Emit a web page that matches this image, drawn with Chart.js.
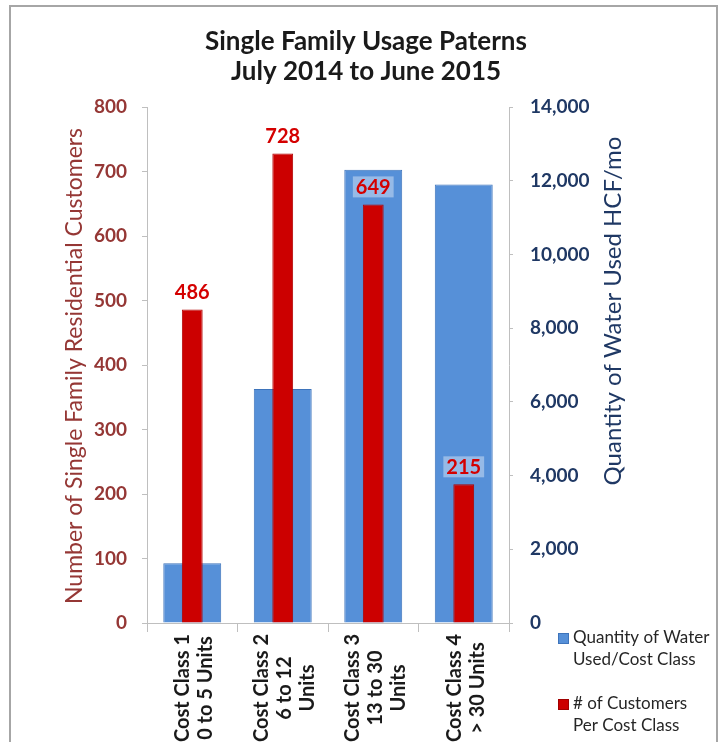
<!DOCTYPE html>
<html>
<head>
<meta charset="utf-8">
<title>Single Family Usage Paterns</title>
<script src="https://cdn.jsdelivr.net/npm/chart.js@4/dist/chart.umd.min.js"></script>
<style>
  body { margin: 0; background: #fff; }
  canvas { display: block; }
</style>
</head>
<body>
<canvas id="usageChart" width="720" height="742"></canvas>
<script>
// Chart data
const costClasses = [
    ['Cost Class 1', '0 to 5 Units'],
    ['Cost Class 2', '6 to 12', 'Units'],
    ['Cost Class 3', '13 to 30', 'Units'],
    ['Cost Class 4', '> 30 Units']
];
const waterUsed = [1620, 6350, 12300, 11900];   // HCF/mo
const customers = [486, 728, 649, 215];
const titleLines = ['Single Family Usage Paterns', 'July 2014 to June 2015'];
const waterLegend = ['Quantity of Water', 'Used/Cost Class'];
const customerLegend = ['# of Customers', 'Per Cost Class'];

const FONT = 'Lato, "Open Sans", sans-serif';
const RED_AXIS = '#953735';
const NAVY = '#1f3864';
const BLUE = '#5690d8';
const RED = '#cc0000';
const AXIS_LINE = '#bfbfbf';

// Draws frame, titles, rotated labels, value labels and the legend
const decorPlugin = {
    id: 'decor',
    beforeDraw(chart) {
        const ctx = chart.ctx;
        ctx.save();
        ctx.fillStyle = '#fff';
        ctx.fillRect(0, 0, chart.width, chart.height);
        ctx.strokeStyle = '#a6a6a6';
        ctx.lineWidth = 2;
        ctx.strokeRect(10, 6, 707, 760);
        ctx.restore();
    },
    afterDraw(chart) {
        const ctx = chart.ctx;
        ctx.save();

        // Title
        ctx.fillStyle = '#1a1a1a';
        ctx.font = `bold 26px ${FONT}`;
        ctx.textAlign = 'center';
        ctx.textBaseline = 'middle';
        titleLines.forEach((t, i) => ctx.fillText(t, 366, 42 + i * 30));

        // Axis titles (both read bottom to top)
        ctx.save();
        ctx.translate(75, 366);
        ctx.rotate(-Math.PI / 2);
        ctx.fillStyle = RED_AXIS;
        ctx.font = `23px ${FONT}`;
        ctx.fillText('Number of Single Family Residential Customers', 0, 0);
        ctx.restore();

        ctx.save();
        ctx.translate(613, 311);
        ctx.rotate(-Math.PI / 2);
        ctx.fillStyle = NAVY;
        ctx.font = `24px ${FONT}`;
        ctx.fillText('Quantity of Water Used HCF/mo', 0, 0);
        ctx.restore();

        // Category labels, rotated, lines centred
        const xScale = chart.scales.x;
        ctx.fillStyle = '#1a1a1a';
        ctx.font = `bold 20px ${FONT}`;
        costClasses.forEach((lines, i) => {
            const cx = xScale.getPixelForValue(i) + 2;
            ctx.save();
            ctx.translate(cx, 688);
            ctx.rotate(-Math.PI / 2);
            const lh = 23;
            lines.forEach((line, j) => {
                ctx.fillText(line, 0, (j - (lines.length - 1) / 2) * lh);
            });
            ctx.restore();
        });

        // Value labels above the customer bars
        const meta = chart.getDatasetMeta(1);
        ctx.font = `bold 20px ${FONT}`;
        meta.data.forEach((bar, i) => {
            const text = String(customers[i]);
            const y = bar.y - 18;
            const w = ctx.measureText(text).width + 6;
            ctx.fillStyle = 'rgba(255,255,255,0.38)';
            ctx.fillRect(bar.x - w / 2, y - 10, w, 21);
            ctx.fillStyle = '#d40000';
            ctx.fillText(text, bar.x, y + 1);
        });

        // Legend
        const legendItems = [
            { color: BLUE, border: '#3e74bb', lines: waterLegend, y: 638 },
            { color: RED, border: '#a00000', lines: customerLegend, y: 704 }
        ];
        ctx.font = `17px ${FONT}`;
        ctx.textAlign = 'left';
        legendItems.forEach(item => {
            ctx.fillStyle = item.color;
            ctx.fillRect(558, item.y - 5, 11, 11);
            ctx.strokeStyle = item.border;
            ctx.lineWidth = 1;
            ctx.strokeRect(558.5, item.y - 4.5, 10, 10);
            ctx.fillStyle = '#262626';
            item.lines.forEach((line, j) => ctx.fillText(line, 573, item.y + j * 22));
        });

        ctx.restore();
    }
};

const ctx = document.getElementById('usageChart').getContext('2d');

new Chart(ctx, {
    type: 'bar',
    data: {
        labels: costClasses,
        datasets: [
            {
                label: waterLegend.join(' '),
                data: waterUsed,
                yAxisID: 'yWater',
                backgroundColor: BLUE,
                borderColor: '#3e74bb',
                borderWidth: 1,
                barPercentage: 0.64,
                categoryPercentage: 1,
                grouped: false,
                order: 2
            },
            {
                label: customerLegend.join(' '),
                data: customers,
                yAxisID: 'yCust',
                backgroundColor: RED,
                borderColor: '#b00000',
                borderWidth: 1,
                barPercentage: 0.23,
                categoryPercentage: 1,
                grouped: false,
                order: 1
            }
        ]
    },
    options: {
        responsive: false,
        animation: false,
        layout: { padding: { top: 107, left: 0, right: 0, bottom: 0 } },
        plugins: {
            legend: { display: false },
            title: { display: false },
            tooltip: { enabled: false }
        },
        scales: {
            x: {
                offset: true,
                grid: { drawOnChartArea: false, offset: true, tickLength: 9, color: AXIS_LINE },
                border: { color: AXIS_LINE },
                ticks: { display: false },
                afterFit: s => { s.height = 742 - 623; }
            },
            yCust: {
                position: 'left',
                min: 0,
                max: 800,
                grid: { drawOnChartArea: false, tickLength: 5, color: AXIS_LINE },
                border: { color: AXIS_LINE },
                ticks: {
                    stepSize: 100,
                    color: RED_AXIS,
                    font: { family: FONT, size: 19, weight: 'bold' },
                    padding: 15
                },
                afterFit: s => { s.width = 147; }
            },
            yWater: {
                position: 'right',
                min: 0,
                max: 14000,
                grid: { drawOnChartArea: false, tickLength: 4, color: AXIS_LINE },
                border: { color: AXIS_LINE },
                ticks: {
                    stepSize: 2000,
                    color: NAVY,
                    font: { family: FONT, size: 19, weight: 'bold' },
                    padding: 17,
                    callback: v => v.toLocaleString('en-US')
                },
                afterFit: s => { s.width = 720 - 509; }
            }
        }
    },
    plugins: [decorPlugin]
});
</script>
</body>
</html>
